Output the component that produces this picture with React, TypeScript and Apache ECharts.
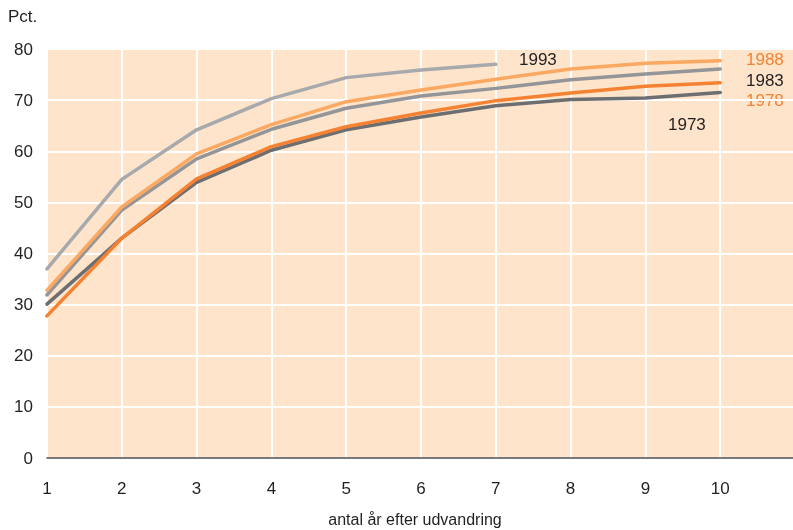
import React, { useEffect, useRef } from "react";
import * as echarts from "echarts";

const years = [1, 2, 3, 4, 5, 6, 7, 8, 9, 10];
const xTickLabels = ["1", "2", "3", "4", "5", "6", "7", "8", "9", "10"];
const s1993 = [37.0, 54.5, 64.2, 70.3, 74.4, 75.9, 77.0];
const s1988 = [32.8, 49.1, 59.5, 65.2, 69.7, 72.0, 74.1, 76.1, 77.2, 77.7];
const s1983 = [31.9, 48.5, 58.5, 64.3, 68.4, 70.8, 72.3, 74.0, 75.1, 76.1];
const s1978 = [27.8, 43.0, 54.6, 60.9, 64.8, 67.5, 69.9, 71.4, 72.7, 73.4];
const s1973 = [30.1, 43.0, 53.9, 60.2, 64.2, 66.7, 68.9, 70.1, 70.4, 71.5];

const FONT = "Liberation Sans";

function pairs(vals: number[]) {
  return vals.map((v, i) => [years[i], v]);
}

export default function App() {
  const ref = useRef<HTMLDivElement>(null);
  useEffect(() => {
    if (!ref.current) return;
    const chart = echarts.init(ref.current, undefined, { renderer: "svg" });
    const mk = (name: string, vals: number[], color: string) => ({
      name,
      type: "line",
      data: pairs(vals),
      showSymbol: false,
      symbol: "none",
      lineStyle: { color, width: 3.5, cap: "round", join: "round" },
      itemStyle: { color },
      z: 5,
    });
    chart.setOption({
      animation: false,
      grid: {
        left: 47,
        top: 49,
        width: 748,
        height: 409,
        outerBoundsMode: "none",
        containLabel: false,
        show: true,
        backgroundColor: "#FDE4CA",
        borderWidth: 0,
      },
      xAxis: {
        type: "value",
        min: 1,
        max: 11,
        interval: 1,
        name: "antal år efter udvandring",
        nameLocation: "middle",
        nameGap: 53,
        nameTextStyle: { fontFamily: FONT, fontSize: 16, color: "#231F20", padding: [0, 0, 0, -12] },
        axisLine: { show: true, lineStyle: { color: "#4D4D4F", width: 1.5 } },
        axisTick: { show: false },
        splitLine: { show: true, lineStyle: { color: "#FFFFFF", width: 2 } },
        axisLabel: {
          fontFamily: FONT,
          fontSize: 17,
          color: "#231F20",
          margin: 22,
          formatter: (v: number) => (xTickLabels.includes(String(v)) ? String(v) : ""),
        },
      },
      yAxis: {
        type: "value",
        min: 0,
        max: 80,
        interval: 10,
        axisLine: { show: false },
        axisTick: { show: false },
        splitLine: { show: true, lineStyle: { color: "#FFFFFF", width: 2 } },
        axisLabel: { fontFamily: FONT, fontSize: 17, color: "#231F20", margin: 14 },
      },
      series: [
        mk("1973", s1973, "#6D6E71"),
        mk("1978", s1978, "#F58232"),
        mk("1983", s1983, "#939598"),
        mk("1988", s1988, "#FBA862"),
        mk("1993", s1993, "#A7A9AC"),
      ],
      graphic: [
        { type: "text", left: 8, top: 8, style: { text: "Pct.", fontFamily: FONT, fontSize: 17, fill: "#231F20" } },
        { type: "text", x: 519, y: 51, style: { text: "1993", fontFamily: FONT, fontSize: 17, fill: "#231F20" } },
        { type: "text", x: 746, y: 51, style: { text: "1988", fontFamily: FONT, fontSize: 17, fill: "#F58232" } },
        { type: "text", x: 746, y: 72, style: { text: "1983", fontFamily: FONT, fontSize: 17, fill: "#231F20" } },
        { type: "text", x: 746, y: 92, style: { text: "1978", fontFamily: FONT, fontSize: 17, fill: "#F58232" } },
        { type: "text", x: 668, y: 116, style: { text: "1973", fontFamily: FONT, fontSize: 17, fill: "#231F20" } },
      ],
    });
    return () => chart.dispose();
  }, []);
  return <div ref={ref} style={{ width: 793, height: 530, position: "fixed", left: 0, top: 0 }} />;
}
